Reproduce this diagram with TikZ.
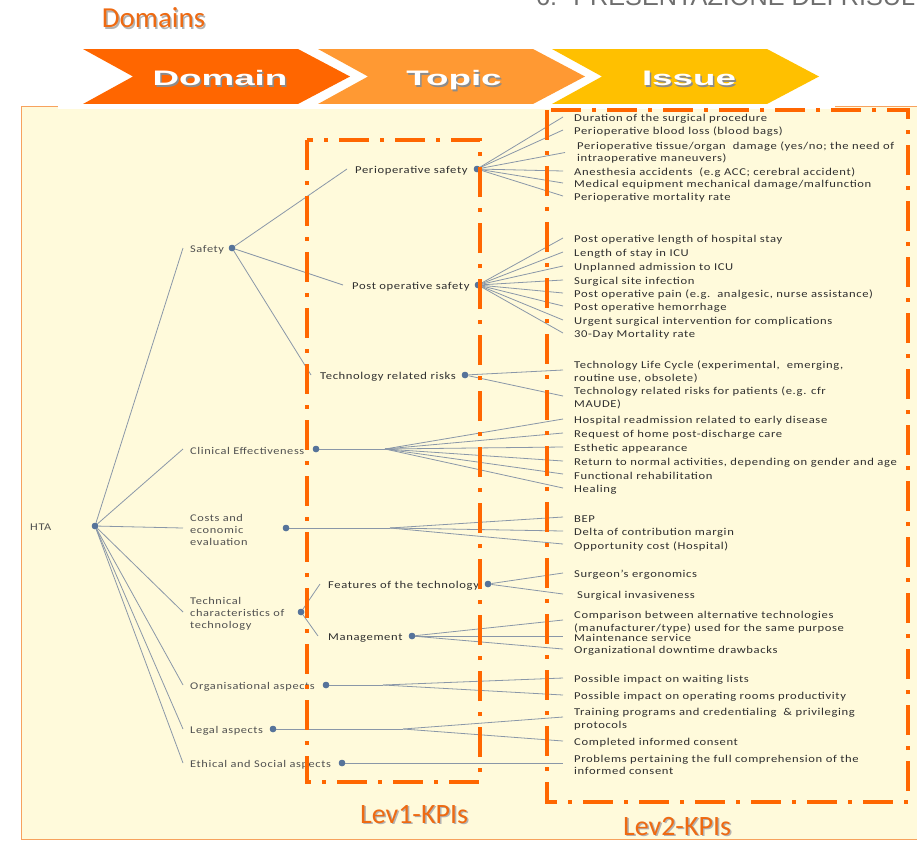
\documentclass[tikz,border=0pt]{standalone}
\usepackage{fontspec}
\setmainfont{Carlito}
\newfontfamily\treefont{Carlito}[FakeStretch=1.2,LetterSpace=6]
\newfontfamily\kpifont{Carlito}
\newfontfamily\chevfont{Liberation Sans}[FakeStretch=1.75]
\newfontfamily\titlefont{Liberation Sans}[FakeStretch=1.01]

\definecolor{panelfill}{HTML}{FFFADB}
\definecolor{panelline}{HTML}{F7A25E}
\definecolor{kpiorange}{HTML}{FF6600}
\definecolor{domorange}{HTML}{FF6600}
\definecolor{topicorange}{HTML}{FF9933}
\definecolor{issueyellow}{HTML}{FFC000}
\definecolor{itemgray}{HTML}{2F2F2F}
\definecolor{labgray}{HTML}{505050}
\definecolor{linkgray}{HTML}{8A97A8}
\definecolor{dotblue}{HTML}{56739A}
\definecolor{headorange}{HTML}{EE6A12}
\definecolor{titlegray}{HTML}{6E6E6E}

\tikzset{
  item/.style={anchor=west, inner sep=0pt, align=left, text=itemgray, yshift=-2pt,
    font=\treefont\fontsize{10.5}{12.5}\selectfont},
  topic/.style={anchor=west, inner sep=0pt, align=left, text=itemgray, yshift=-2pt,
    font=\treefont\fontsize{10.5}{12.5}\selectfont},
  domainlab/.style={anchor=west, inner sep=0pt, align=left, text=labgray, yshift=-1.5pt,
    font=\treefont\fontsize{10.3}{12}\selectfont},
  link/.style={draw=linkgray, line width=0.8pt},
  dot/.style={circle, fill=dotblue, inner sep=0pt, minimum size=6.5pt},
  kpibox/.style={draw=kpiorange, line width=4pt,
    dash pattern=on 30pt off 11pt on 4pt off 11pt},
  chevtext/.style={anchor=base, text=white, font=\chevfont\bfseries\fontsize{21}{21}\selectfont},
  chevshadow/.style={anchor=base, text=black!45, font=\chevfont\bfseries\fontsize{21}{21}\selectfont},
  kpilabel/.style={anchor=base, text=headorange, font=\kpifont\fontsize{28}{28}\selectfont},
  kpishadow/.style={anchor=base, text=black!30, font=\kpifont\fontsize{28}{28}\selectfont},
}

\begin{document}
\begin{tikzpicture}[x=1pt,y=-1pt]
\useasboundingbox (0,0) rectangle (917,841);
\clip (0,0) rectangle (917,841);

% page title, running off the top edge
\node[anchor=base west, inner sep=0pt, text=titlegray,
  font=\titlefont\fontsize{25}{25}\selectfont] (title) at (536,5.5)
  {6.\hspace{16pt}PRESENTAZIONE DEI RISULTATI};

% heading
\node[text=black!30, font=\kpifont\fontsize{29}{29}\selectfont] (domshadow) at (155,19.5) {Domains};
\node[text=headorange, font=\kpifont\fontsize{29}{29}\selectfont] (domains) at (153.5,18) {Domains};

% chevrons Domain -> Topic -> Issue
\fill[domorange]   (83,49) -- (298,49) -- (350,76.5) -- (298,104) -- (83,104) -- (133,76.5) -- cycle;
\fill[topicorange] (318,49) -- (533,49) -- (585,76.5) -- (533,104) -- (318,104) -- (368,76.5) -- cycle;
\fill[issueyellow] (552,49) -- (767,49) -- (819,76.5) -- (767,104) -- (552,104) -- (602,76.5) -- cycle;
\node[chevshadow] (chd0) at (221.5,87) {Domain};
\node[chevtext]   (chd)  at (220,85.5) {Domain};
\node[chevshadow] (cht0) at (455.5,87) {Topic};
\node[chevtext]   (cht)  at (454,85.5) {Topic};
\node[chevshadow] (chi0) at (690.5,87) {Issue};
\node[chevtext]   (chi)  at (689,85.5) {Issue};

% panel
\filldraw[fill=panelfill, draw=panelline, line width=1pt] (21,106) rectangle (925,839);
\fill[white] (58,103.5) rectangle (835,108.5);

% ---------------- root and domains ----------------
\node[domainlab] (hta) at (30,526) {HTA};
\node[dot] (htad) at (95,526) {};

\node[domainlab] (safety) at (190,248) {Safety};
\node[dot] (safd) at (232,248) {};
\node[domainlab] (clin) at (190,449) {Clinical Effectiveness};
\node[dot] (clind) at (316,449) {};
\node[domainlab] (cost) at (190,528) {Costs and\\economic\\evaluation};
\node[dot] (costd) at (286,528) {};
\node[domainlab] (tech) at (190,612) {Technical\\characteristics of\\technology};
\node[dot] (techd) at (301,612) {};
\node[domainlab] (org) at (190,685) {Organisational aspects};
\node[dot] (orgd) at (326,685) {};
\node[domainlab] (legal) at (190,729) {Legal aspects};
\node[dot] (legald) at (273,729) {};
\node[domainlab] (eth) at (190,763) {Ethical and Social aspects};
\node[dot] (ethd) at (342,763) {};

\foreach \n in {safety,clin,cost,tech,org,legal,eth}
  \draw[link] (htad) -- ([xshift=-7pt,yshift=1.5pt]\n.west);

% ---------------- topics ----------------
\node[topic] (pso) at (355,169) {Perioperative safety};
\node[dot] (psod) at (477,169) {};
\node[topic] (pos) at (352,285) {Post operative safety};
\node[dot] (posd) at (478,285) {};
\node[topic] (trr) at (320,375) {Technology related risks};
\node[dot] (trrd) at (465,375) {};
\node[topic] (fea) at (328,584) {Features of the technology};
\node[dot] (fead) at (488,584) {};
\node[topic] (man) at (328,636) {Management};
\node[dot] (mand) at (412,636) {};

\draw[link] (safd) -- ([xshift=-8pt,yshift=2pt]pso.west);
\draw[link] (safd) -- ([xshift=-9pt,yshift=2pt]pos.west);
\draw[link] (safd) -- ([xshift=-9pt,yshift=2pt]trr.west);
\draw[link] (techd) -- ([xshift=-8pt,yshift=2pt]fea.west);
\draw[link] (techd) -- ([xshift=-10pt,yshift=2pt]man.west);

% ---------------- issues ----------------
\node[item] (p1) at (574,117) {Duration of the surgical procedure};
\node[item] (p2) at (574,130) {Perioperative blood loss (blood bags)};
\node[item] (p3) at (577,150.5) {Perioperative tissue/organ\ \ damage (yes/no; the need of\\intraoperative maneuvers)};
\node[item] (p4) at (574,171) {Anesthesia accidents\ \ (e.g ACC; cerebral accident)};
\node[item] (p5) at (574,183) {Medical equipment mechanical damage/malfunction};
\node[item] (p6) at (574,196) {Perioperative mortality rate};

\node[item] (q1) at (574,238) {Post operative length of hospital stay};
\node[item] (q2) at (574,252) {Length of stay in ICU};
\node[item] (q3) at (574,266) {Unplanned admission to ICU};
\node[item] (q4) at (574,280) {Surgical site infection};
\node[item] (q5) at (574,293) {Post operative pain (e.g.\ \ analgesic, nurse assistance)};
\node[item] (q6) at (574,306) {Post operative hemorrhage};
\node[item] (q7) at (574,320) {Urgent surgical intervention for complications};
\node[item] (q8) at (574,333) {30-Day Mortality rate};

\node[item] (r1) at (574,370) {Technology Life Cycle (experimental,\ \ emerging,\\routine use, obsolete)};
\node[item] (r2) at (574,396) {Technology related risks for patients (e.g. cfr\\MAUDE)};

\node[item] (c1) at (574,419) {Hospital readmission related to early disease};
\node[item] (c2) at (574,433) {Request of home post-discharge care};
\node[item] (c3) at (574,447) {Esthetic appearance};
\node[item] (c4) at (574,461) {Return to normal activities, depending on gender and age};
\node[item] (c5) at (574,474) {Functional rehabilitation};
\node[item] (c6) at (574,488) {Healing};

\node[item] (e1) at (574,517) {BEP};
\node[item] (e2) at (574,531) {Delta of contribution margin};
\node[item] (e3) at (574,544) {Opportunity cost (Hospital)};

\node[item] (f1) at (574,573) {Surgeon’s ergonomics};
\node[item] (f2) at (577,594) {Surgical invasiveness};

\node[item] (m1) at (574,620) {Comparison between alternative technologies\\(manufacturer/type) used for the same purpose};
\node[item] (m2) at (574,636) {Maintenance service};
\node[item] (m3) at (574,649) {Organizational downtime drawbacks};

\node[item] (o1) at (574,678) {Possible impact on waiting lists};
\node[item] (o2) at (574,695) {Possible impact on operating rooms productivity};

\node[item] (l1) at (574,717) {Training programs and credentialing\ \ \& privileging\\protocols};
\node[item] (l2) at (574,741) {Completed informed consent};

\node[item] (s1) at (574,763) {Problems pertaining the full comprehension of the\\informed consent};

% topic fans
\foreach \n in {p1,p2,p4,p5,p6}
  \draw[link] (psod) -- ([xshift=-11pt,yshift=2pt]\n.west);
\draw[link] (psod) -- ([xshift=-12pt]p3.west);
\foreach \n in {q1,q2,q3,q4,q5,q6,q7,q8}
  \draw[link] (posd) -- ([xshift=-11pt,yshift=2pt]\n.west);
\foreach \n in {r1,r2}
  \draw[link] (trrd) -- ([xshift=-11pt,yshift=2pt]\n.west);
\draw[link] (fead) -- ([xshift=-11pt,yshift=2pt]f1.west);
\draw[link] (fead) -- ([xshift=-14pt,yshift=2pt]f2.west);
\foreach \n in {m1,m2,m3}
  \draw[link] (mand) -- ([xshift=-11pt,yshift=2pt]\n.west);

% domain fans with a common stem
\coordinate (clinf) at (385,449);
\draw[link] (clind) -- (clinf);
\foreach \n in {c1,c2,c3,c4,c5,c6}
  \draw[link] (clinf) -- ([xshift=-11pt,yshift=2pt]\n.west);
\coordinate (costf) at (390,528);
\draw[link] (costd) -- (costf);
\foreach \n in {e1,e2,e3}
  \draw[link] (costf) -- ([xshift=-11pt,yshift=2pt]\n.west);
\coordinate (orgf) at (383,685);
\draw[link] (orgd) -- (orgf);
\foreach \n in {o1,o2}
  \draw[link] (orgf) -- ([xshift=-11pt,yshift=2pt]\n.west);
\coordinate (legalf) at (403,729);
\draw[link] (legald) -- (legalf);
\foreach \n in {l1,l2}
  \draw[link] (legalf) -- ([xshift=-11pt,yshift=2pt]\n.west);
\draw[link] (ethd) -- ([xshift=-11pt,yshift=2pt]s1.west);

% dots above the lines
\foreach \d/\x/\y in {htad/95/526,safd/232/248,clind/316/449,costd/286/528,techd/301/612,
  orgd/326/685,legald/273/729,ethd/342/763,psod/477/169,posd/478/285,trrd/465/375,
  fead/488/584,mand/412/636}
  \fill[dotblue] (\x,\y) circle (3.2pt);

% KPI frames
\draw[kpibox] (307,140) rectangle (480,782);
\draw[kpibox] (547,110) rectangle (908,802);

\node[kpishadow] (lev1s) at (415.5,824.5) {Lev1-KPIs};
\node[kpilabel]  (lev1)  at (414,823) {Lev1-KPIs};
\node[kpishadow] (lev2s) at (678.5,836.5) {Lev2-KPIs};
\node[kpilabel]  (lev2)  at (677,835) {Lev2-KPIs};
\end{tikzpicture}
\end{document}
